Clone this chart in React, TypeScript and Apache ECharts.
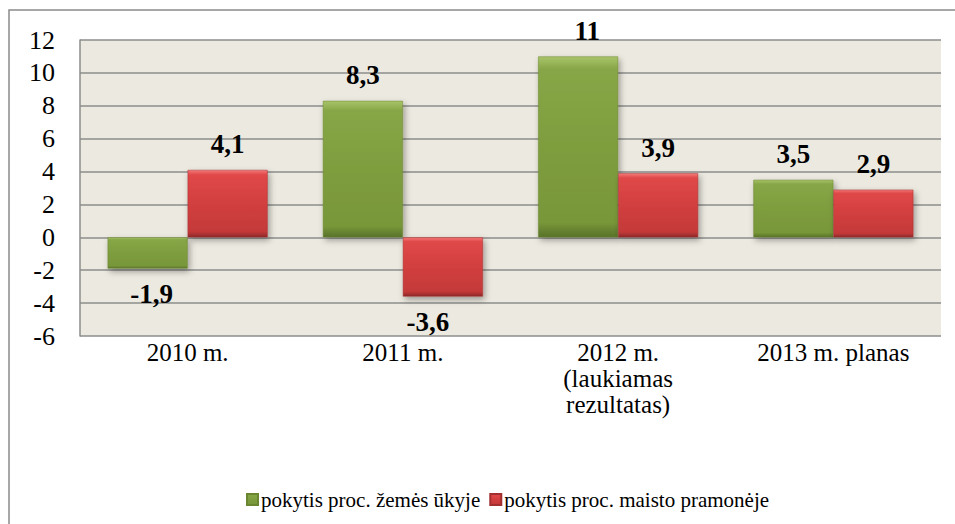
import React, { useEffect, useRef } from "react";
import * as echarts from "echarts";

const categories = ["2010 m.", "2011 m.", "2012 m.\n(laukiamas\nrezultatas)", "2013 m. planas"];
const seriesNames = ["pokytis proc. žemės ūkyje", "pokytis proc. maisto pramonėje"];
const agriculture = [-1.9, 8.3, 11, 3.5];
const foodIndustry = [4.1, -3.6, 3.9, 2.9];
const yMin = -6;
const yMax = 12;
const yStep = 2;

const FONT = "Liberation Serif";

const greenFill = new echarts.graphic.LinearGradient(0, 0, 0, 1, [
  { offset: 0, color: "#a9c46a" },
  { offset: 0.07, color: "#87a646" },
  { offset: 0.5, color: "#7e9d3e" },
  { offset: 0.92, color: "#789739" },
  { offset: 1, color: "#58722a" },
]);
const redFill = new echarts.graphic.LinearGradient(0, 0, 0, 1, [
  { offset: 0, color: "#f47a7a" },
  { offset: 0.07, color: "#e04848" },
  { offset: 0.5, color: "#d23f3f" },
  { offset: 0.92, color: "#c43939" },
  { offset: 1, color: "#8c2929" },
]);

const fmt = (v: number) => String(v).replace(".", ",");

function buildData(values: number[], offsets: Record<number, [number, number]>) {
  return values.map((v, i) => ({
    value: v,
    label: {
      position: v < 0 ? "bottom" : "top",
      offset: offsets[i] || [0, 0],
    },
  }));
}

export default function App() {
  const ref = useRef<HTMLDivElement>(null);
  useEffect(() => {
    if (!ref.current) return;
    const chart = echarts.init(ref.current, null, { renderer: "svg" });
    const labelStyle = {
      show: true,
      distance: 12,
      fontFamily: FONT,
      fontWeight: "bold",
      fontSize: 27,
      color: "#000",
      formatter: (p: any) => fmt(p.value),
    };
    const itemShadow = {
      shadowBlur: 6,
      shadowColor: "rgba(0,0,0,0.35)",
      shadowOffsetX: 2,
      shadowOffsetY: 3,
    };
    chart.setOption({
      animation: false,
      backgroundColor: "#ffffff",
      textStyle: { fontFamily: FONT },
      graphic: [
        {
          type: "rect",
          shape: { x: 9, y: 10, width: 1000, height: 600 },
          style: { fill: "none", stroke: "#8a8a8a", lineWidth: 1.5 },
          silent: true,
        },
      ],
      grid: {
        left: 80,
        top: 40,
        right: 14,
        bottom: 188,
        show: true,
        backgroundColor: "#ECE9E0",
        borderWidth: 0,
      },
      legend: {
        left: 241,
        top: 484,
        itemWidth: 11,
        itemHeight: 11,
        itemGap: 9,
        icon: "rect",
        textStyle: { fontFamily: FONT, fontSize: 21, color: "#000", padding: [0, 0, 0, -2] },
        data: seriesNames,
      },
      xAxis: {
        type: "category",
        data: categories,
        position: "bottom",
        axisLine: { show: false, onZero: false },
        axisTick: { show: false },
        axisLabel: {
          fontFamily: FONT,
          fontSize: 25,
          lineHeight: 26,
          color: "#000",
          margin: 3,
          interval: 0,
        },
      },
      yAxis: {
        type: "value",
        min: yMin,
        max: yMax,
        interval: yStep,
        axisLine: { show: true, lineStyle: { color: "#8c8c8c", width: 1.5 } },
        axisTick: { show: false },
        axisLabel: {
          fontFamily: FONT,
          fontSize: 26,
          color: "#000",
          margin: 25,
        },
        splitLine: { show: true, lineStyle: { color: "#8c8c8c", width: 1.5 } },
      },
      series: [
        {
          name: seriesNames[0],
          type: "bar",
          data: buildData(agriculture, { 2: [9, 0], 0: [4, 0] }),
          barWidth: 80,
          barGap: "0%",
          itemStyle: { color: greenFill, borderColor: "#6a8630", borderWidth: 0.5, ...itemShadow },
          label: labelStyle,
        },
        {
          name: seriesNames[1],
          type: "bar",
          data: buildData(foodIndustry, { 1: [-15, 0] }),
          barWidth: 80,
          barGap: "0%",
          itemStyle: { color: redFill, borderColor: "#a33030", borderWidth: 0.5, ...itemShadow },
          label: labelStyle,
        },
      ],
    });
    return () => chart.dispose();
  }, []);
  return (
    <div
      ref={ref}
      style={{ position: "fixed", left: 0, top: 0, width: 955, height: 524 }}
    />
  );
}
